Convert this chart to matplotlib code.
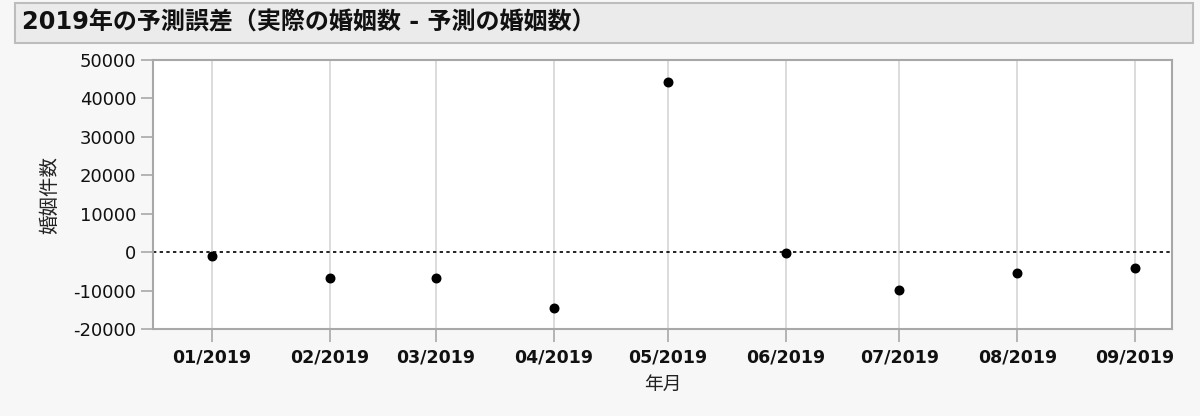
import pandas as pd
import numpy as np
import matplotlib
matplotlib.use('Agg')
import matplotlib.pyplot as plt
import matplotlib.dates as mdates
from matplotlib.patches import Rectangle

plt.rcParams['font.family'] = ['DejaVu Sans', 'Noto Sans CJK JP']
plt.rcParams['axes.unicode_minus'] = False

months = ['2019-01-01', '2019-02-01', '2019-03-01', '2019-04-01', '2019-05-01',
          '2019-06-01', '2019-07-01', '2019-08-01', '2019-09-01']
errors = [-1050, -6750, -6650, -14550, 44300, -100, -9800, -5550, -4250]

title = '2019年の予測誤差（実際の婚姻数 - 予測の婚姻数）'
xlabel = '年月'
ylabel = '婚姻件数'
yticks = [-20000, -10000, 0, 10000, 20000, 30000, 40000, 50000]

dates = pd.to_datetime(months)

fig = plt.figure(figsize=(12, 4.16), dpi=100)
fig.patch.set_facecolor('#f7f7f7')

# title box
fig.patches.append(Rectangle((0.0125, 0.8966), 0.9817, 0.0962, transform=fig.transFigure,
                             facecolor='#ebebeb', edgecolor='#bdbdbd', linewidth=1.5))
fig.text(0.018, 0.9447, title, fontsize=17.3, fontweight='bold', va='center', ha='left', color='#111111')

ax = fig.add_axes([0.1275, 0.2091, 0.8492, 0.6467])
ax.set_facecolor('white')

ax.scatter(dates, errors, s=38, color='black', zorder=3)
ax.axhline(0, color='black', linestyle=(0, (2, 2)), linewidth=1.2, zorder=2)

ax.set_xlim(pd.Timestamp('2018-12-16 12:00'), pd.Timestamp('2019-09-10 18:00'))
ax.set_ylim(-20000, 50000)
ax.set_yticks(yticks)
ax.set_xticks(dates)
ax.xaxis.set_major_formatter(mdates.DateFormatter('%m/%Y'))
ax.grid(axis='x', color='#d6d6d6', linewidth=1.2)
ax.set_axisbelow(True)

for lab in ax.get_xticklabels():
    lab.set_fontweight('bold')
ax.tick_params(axis='x', labelsize=12.5, length=9, color='#a8a8a8', width=1.2, pad=5, labelcolor='#111111')
ax.tick_params(axis='y', labelsize=13, length=9, color='#a8a8a8', width=1.2, pad=3, labelcolor='#111111')

for s in ax.spines.values():
    s.set_color('#a8a8a8')
    s.set_linewidth(1.5)

ax.set_xlabel(xlabel, fontsize=13.5, labelpad=6, color='#222222')
ax.set_ylabel(ylabel, fontsize=14, labelpad=10, color='#222222')

fig.savefig('out.png', dpi=100, facecolor=fig.get_facecolor())
